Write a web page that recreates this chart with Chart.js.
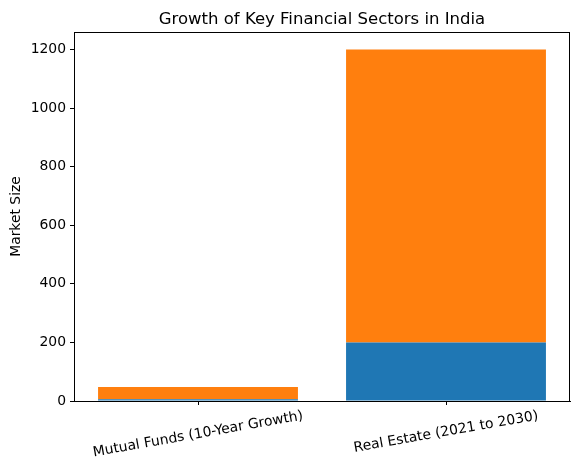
<!DOCTYPE html>
<html>
<head>
<meta charset="utf-8">
<script src="https://cdn.jsdelivr.net/npm/chart.js@4.4.0/dist/chart.umd.min.js"></script>
<style>
  html, body { margin: 0; padding: 0; background: #fff; }
  #wrap { width: 580px; height: 472px; }
</style>
</head>
<body>
<div id="wrap"><canvas id="chart"></canvas></div>
<script>
const categories = ['Mutual Funds (10-Year Growth)', 'Real Estate (2021 to 2030)'];
const baseValues = [6, 200];
const growthValues = [42, 1000];
const yTicks = [0, 200, 400, 600, 800, 1000, 1200];
const chartTitle = 'Growth of Key Financial Sectors in India';

const FONT = "'DejaVu Sans', sans-serif";

// matplotlib look: frame, title over the axes, rotated centred x labels
const mplPlugin = {
    id: 'mpl',
    afterDraw(chart) {
        const ctx = chart.ctx;
        const area = chart.chartArea;
        const xs = chart.scales.x;
        ctx.save();
        ctx.strokeStyle = '#000';
        ctx.lineWidth = 1;
        ctx.strokeRect(area.left + 0.5, area.top + 0.5, area.right - area.left - 1, area.bottom - area.top);

        ctx.fillStyle = '#000';
        ctx.font = '16.5px ' + FONT;
        ctx.textAlign = 'center';
        ctx.textBaseline = 'alphabetic';
        ctx.fillText(chartTitle, (area.left + area.right) / 2, 24);

        ctx.font = '13.9px ' + FONT;
        ctx.textBaseline = 'middle';
        const ang = 10 * Math.PI / 180;
        categories.forEach((label, i) => {
            const x = xs.getPixelForTick(i);
            const w = ctx.measureText(label).width;
            const h = 16;
            const bh = w * Math.sin(ang) + h * Math.cos(ang);
            const y = area.bottom + 7 + bh / 2;
            ctx.save();
            ctx.translate(x, y);
            ctx.rotate(-ang);
            ctx.fillText(label, 0, 0);
            ctx.restore();
        });
        ctx.restore();
    }
};

const data = {
    labels: categories,
    datasets: [
        {
            label: 'Base',
            data: baseValues,
            backgroundColor: '#1f77b4',
            borderWidth: 0
        },
        {
            label: 'Growth',
            data: growthValues,
            backgroundColor: '#ff7f0e',
            borderWidth: 0
        }
    ]
};

const options = {
    responsive: true,
    maintainAspectRatio: false,
    animation: false,
    layout: { padding: { left: 0, right: 10, top: 32, bottom: 0 } },
    categoryPercentage: 1.0,
    barPercentage: 0.806,
    scales: {
        x: {
            stacked: true,
            grid: { display: true, offset: false, drawOnChartArea: false, drawTicks: true, tickLength: 4, color: '#000' },
            border: { display: true, color: '#000' },
            ticks: { display: false },
            afterFit(scale) { scale.height = 71; }
        },
        y: {
            stacked: true,
            min: 0,
            max: 1260,
            afterBuildTicks(scale) {
                scale.ticks = yTicks.map(v => ({ value: v }));
            },
            grid: { display: true, drawOnChartArea: false, drawTicks: true, tickLength: 4, color: '#000' },
            border: { display: true, color: '#000' },
            ticks: {
                color: '#000',
                padding: 4,
                font: { family: FONT, size: 13.9 },
                callback: v => String(v)
            },
            title: {
                display: true,
                text: 'Market Size',
                color: '#000',
                font: { family: FONT, size: 13.9 },
                padding: { top: 8, bottom: 4 }
            },
            afterFit(scale) { scale.width = 74; }
        }
    },
    plugins: {
        legend: { display: false },
        tooltip: { enabled: false },
        title: { display: false }
    }
};

new Chart(document.getElementById('chart').getContext('2d'), {
    type: 'bar',
    data: data,
    options: options,
    plugins: [mplPlugin]
});
</script>
</body>
</html>
